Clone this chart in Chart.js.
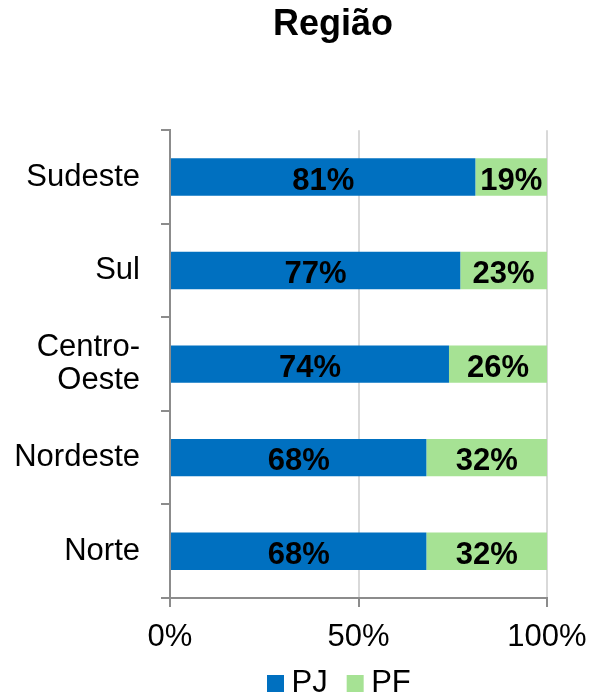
<!DOCTYPE html>
<html>
<head>
<meta charset="utf-8">
<script src="https://cdn.jsdelivr.net/npm/chart.js@4/dist/chart.umd.min.js"></script>
<style>
  html, body { margin: 0; padding: 0; background: #ffffff; }
  #wrap { width: 590px; height: 697px; position: relative; }
</style>
</head>
<body>
<div id="wrap"><canvas id="c" width="590" height="697"></canvas></div>
<script>
const categories = ['Sudeste', 'Sul', ['Centro-', 'Oeste'], 'Nordeste', 'Norte'];
const seriesNames = ['PJ', 'PF'];
const pjValues = [81, 77, 74, 68, 68];
const pfValues = [19, 23, 26, 32, 32];
const xTickValues = [0, 50, 100];
const titleText = 'Região';

const FONT = "'Liberation Sans', Arial, sans-serif";
const BLUE = '#0070C0';
const GREEN = '#A6E294';
const AXIS = '#8C8C8C';
const GRID = '#D9D9D9';

const barLabels = {
  id: 'barLabels',
  afterDatasetsDraw(chart) {
    const ctx = chart.ctx;
    ctx.save();
    ctx.font = 'bold 31px ' + FONT;
    ctx.fillStyle = '#000000';
    ctx.textAlign = 'center';
    ctx.textBaseline = 'middle';
    chart.data.datasets.forEach((ds, di) => {
      const meta = chart.getDatasetMeta(di);
      meta.data.forEach((el, i) => {
        const p = el.getCenterPoint();
        ctx.fillText(ds.data[i] + '%', p.x, p.y + 4);
      });
    });
    ctx.restore();
  }
};

const placeBlocks = {
  id: 'placeBlocks',
  afterLayout(chart) {
    const t = chart.titleBlock;
    if (t) {
      const w = t.right - t.left;
      t.left = 333 - w / 2;
      t.right = 333 + w / 2;
    }
    const lg = chart.legend;
    if (lg) {
      lg.left = 275 - 27;
      lg.right = lg.left + 400;
      lg.width = 400;
      lg.top = 641;
      lg.bottom = 641 + 60;
      lg.height = 60;
    }
  }
};

new Chart(document.getElementById('c'), {
  type: 'bar',
  data: {
    labels: categories,
    datasets: [
      { label: seriesNames[0], data: pjValues, backgroundColor: BLUE, borderWidth: 0, barPercentage: 0.4, categoryPercentage: 1 },
      { label: seriesNames[1], data: pfValues, backgroundColor: GREEN, borderWidth: 0, barPercentage: 0.4, categoryPercentage: 1 }
    ]
  },
  options: {
    indexAxis: 'y',
    responsive: false,
    animation: false,
    devicePixelRatio: 1,
    layout: { padding: { left: 8, right: 43, top: 0, bottom: 38 } },
    scales: {
      x: {
        stacked: true,
        min: 0,
        max: 100,
        afterBuildTicks(scale) { scale.ticks = xTickValues.map(v => ({ value: v })); },
        afterFit(scale) { scale.height = 60; scale.paddingRight = 0; scale.paddingLeft = 0; },
        ticks: {
          callback: v => v + '%',
          color: '#000000',
          font: { family: FONT, size: 31 },
          padding: 12,
          maxRotation: 0,
          autoSkip: false
        },
        grid: { color: GRID, lineWidth: 2, tickColor: AXIS, tickLength: 9, drawTicks: true },
        border: { color: AXIS, width: 2 }
      },
      y: {
        stacked: true,
        afterFit(scale) { scale.width = 162; },
        ticks: {
          color: '#000000',
          font: { family: FONT, size: 31, lineHeight: 1.05 },
          padding: 21,
          autoSkip: false
        },
        grid: { drawOnChartArea: false, drawTicks: true, tickLength: 9, color: AXIS, tickColor: AXIS, lineWidth: 2, offset: true },
        border: { color: AXIS, width: 2 }
      }
    },
    plugins: {
      title: {
        display: true,
        text: titleText,
        color: '#000000',
        font: { family: FONT, size: 36, weight: 'bold', lineHeight: 1.2 },
        padding: { top: 3, bottom: 84 }
      },
      legend: {
        display: true,
        position: 'bottom',
        align: 'start',
        maxHeight: 1,
        labels: {
          usePointStyle: true,
          pointStyle: 'rect',
          boxWidth: 1,
          boxHeight: 17,
          padding: 27,
          color: '#000000',
          font: { family: FONT, size: 31 },
          generateLabels(chart) {
            return chart.data.datasets.map((ds, i) => ({
              text: ds.label,
              fillStyle: ds.backgroundColor,
              strokeStyle: ds.backgroundColor,
              lineWidth: 0,
              pointStyle: 'rect',
              hidden: false,
              datasetIndex: i
            }));
          }
        }
      },
      tooltip: { enabled: false }
    }
  },
  plugins: [barLabels, placeBlocks]
});
</script>
</body>
</html>
